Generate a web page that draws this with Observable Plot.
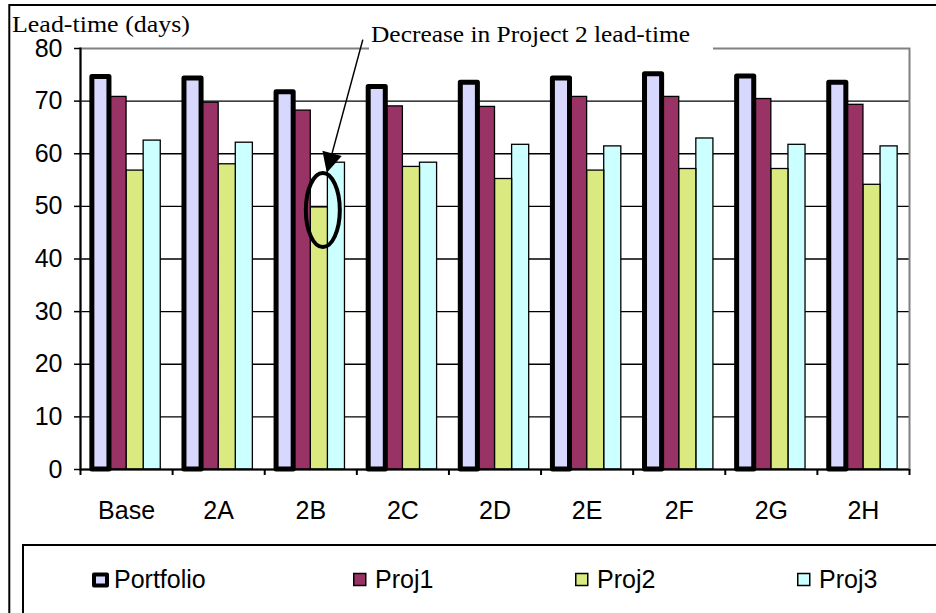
<!DOCTYPE html>
<html>
<head>
<meta charset="utf-8">
<script src="https://cdn.jsdelivr.net/npm/d3@7"></script>
<script src="https://cdn.jsdelivr.net/npm/@observablehq/plot@0.6"></script>
<style>
  body { margin: 0; background: #fff; }
  #wrap { position: relative; width: 936px; height: 613px; overflow: hidden; background: #fff; }
  #chart { position: absolute; left: 0; top: 0; }
  #overlay { position: absolute; left: 0; top: 0; pointer-events: none; }
</style>
</head>
<body>
<div id="wrap">
  <div id="chart"></div>
  <svg id="overlay" width="936" height="613"></svg>
</div>
<script>
// ---- data ----
const categories = ["Base", "2A", "2B", "2C", "2D", "2E", "2F", "2G", "2H"];
const seriesNames = ["Portfolio", "Proj1", "Proj2", "Proj3"];
const portfolio = [74.6, 74.3, 71.7, 72.7, 73.5, 74.3, 75.1, 74.7, 73.5];
const proj1     = [70.8, 69.7, 68.2, 69.0, 68.9, 70.8, 70.8, 70.4, 69.3];
const proj2     = [56.8, 58.0, 49.8, 57.5, 55.2, 56.8, 57.1, 57.1, 54.1];
const proj3     = [62.5, 62.1, 58.3, 58.3, 61.7, 61.4, 62.9, 61.7, 61.4];
const yTicks = [0, 10, 20, 30, 40, 50, 60, 70, 80];
const yTitle = "Lead-time (days)";
const noteText = "Decrease in Project 2 lead-time";
const noteCategory = "2B";

// ---- layout ----
const W = 936, H = 545;
const mL = 80, mR = 27, mT = 48, mB = H - 469;
const bw = (W - mL - mR) / categories.length;
const sw = 17.1;
const pad = (bw - seriesNames.length * sw) / 2;
const colors = { Portfolio: "#D8D8FF", Proj1: "#993366", Proj2: "#DAEA80", Proj3: "#CCFFFF" };
const valuesBySeries = { Portfolio: portfolio, Proj1: proj1, Proj2: proj2, Proj3: proj3 };

const rows = categories.map((c, i) => {
  const r = { cat: c };
  seriesNames.forEach(s => r[s] = valuesBySeries[s][i]);
  return r;
});

function bars(name) {
  const i = seriesNames.indexOf(name);
  const thick = name === "Portfolio";
  return Plot.barY(rows, {
    x: "cat", y: name,
    fill: colors[name],
    stroke: "#000",
    strokeWidth: thick ? 5 : 1.3,
    strokeLinejoin: thick ? "round" : "miter",
    insetLeft: pad + i * sw,
    insetRight: bw - pad - (i + 1) * sw
  });
}

const font = "'Liberation Sans', Arial, sans-serif";
const fs = 25;

const chart = Plot.plot({
  width: W, height: H,
  marginLeft: mL, marginRight: mR, marginTop: mT, marginBottom: mB,
  style: { fontFamily: font, fontSize: fs + "px", color: "#000", background: "transparent", overflow: "visible" },
  x: { type: "band", domain: categories, padding: 0, round: false, axis: null },
  y: { domain: [0, 80], axis: null },
  marks: [
    Plot.gridY(yTicks.filter(t => t > 0 && t < 80), { stroke: "#000", strokeOpacity: 1, strokeWidth: 1.3 }),
    Plot.frame({ stroke: "#808080", strokeWidth: 2 }),
    bars("Proj3"), bars("Proj2"), bars("Proj1"), bars("Portfolio"),
    Plot.ruleY([0], { stroke: "#000", strokeWidth: 2 }),
    Plot.frame({ anchor: "left", stroke: "#000", strokeWidth: 2 }),
    Plot.axisY(yTicks, { tickSize: 6, tickPadding: 12, fontSize: fs, strokeWidth: 1.5, label: null }),
    Plot.axisX({ tickSize: 0, tickPadding: 32, fontSize: fs, label: null }),
    Plot.axisX({ tickSize: 6, strokeWidth: 2, tickFormat: () => "", dx: -bw / 2, label: null }),
    Plot.axisX([categories[categories.length - 1]], { tickSize: 6, strokeWidth: 2, tickFormat: () => "", dx: bw / 2, label: null })
  ]
});
document.getElementById("chart").appendChild(chart);

// ---- overlay: borders, title, annotation, legend ----
function sc(name) { const s = chart.scale(name); return s.apply ? s : Plot.scale({ [name]: s }); }
const xs = sc("x"), ys = sc("y");
const svg = d3.select("#overlay");

// outer chart border
svg.append("rect").attr("x", 9.3).attr("y", 5).attr("width", 1000).attr("height", 1000)
  .attr("fill", "none").attr("stroke", "#000").attr("stroke-width", 2);

// axis title
svg.append("text").attr("x", 12).attr("y", 32)
  .attr("font-family", "'Liberation Serif', 'Times New Roman', serif").attr("font-size", 22.5)
  .attr("textLength", 178).attr("lengthAdjust", "spacingAndGlyphs")
  .text(yTitle);

// annotation
const slot2 = xs.apply(noteCategory) + pad + 2.5 * sw;
svg.append("rect").attr("x", 369).attr("y", 18).attr("width", 344).attr("height", 32).attr("fill", "#fff");
svg.append("text").attr("x", 371).attr("y", 41.5)
  .attr("font-family", "'Liberation Serif', 'Times New Roman', serif").attr("font-size", 23.5)
  .attr("textLength", 319).attr("lengthAdjust", "spacingAndGlyphs")
  .text(noteText);
const tip = [slot2 + 8, ys.apply(56.3)];
const tail = [slot2 + 44, ys.apply(81.6)];
const ang = Math.atan2(tip[1] - tail[1], tip[0] - tail[0]);
const hl = 20, hw = 10;
const bx = tip[0] - hl * Math.cos(ang), by = tip[1] - hl * Math.sin(ang);
svg.append("line").attr("x1", tail[0]).attr("y1", tail[1]).attr("x2", bx).attr("y2", by)
  .attr("stroke", "#000").attr("stroke-width", 1.5);
svg.append("path")
  .attr("d", `M${tip[0]},${tip[1]}L${bx + hw * Math.sin(ang)},${by - hw * Math.cos(ang)}L${bx - hw * Math.sin(ang)},${by + hw * Math.cos(ang)}Z`)
  .attr("fill", "#000");
svg.append("ellipse").attr("cx", slot2 + 4).attr("cy", ys.apply(49.2)).attr("rx", 17).attr("ry", 37)
  .attr("fill", "none").attr("stroke", "#000").attr("stroke-width", 4);

// legend
svg.append("rect").attr("x", 23).attr("y", 545).attr("width", 1000).attr("height", 200)
  .attr("fill", "#fff").attr("stroke", "#000").attr("stroke-width", 2);
const legX = [92, 353, 575, 797];
seriesNames.forEach((s, i) => {
  const g = svg.append("g");
  if (s === "Portfolio") {
    g.append("rect").attr("x", legX[i] + 2).attr("y", 574.5).attr("width", 13).attr("height", 11)
      .attr("fill", colors[s]).attr("stroke", "#000").attr("stroke-width", 4).attr("stroke-linejoin", "round");
  } else {
    g.append("rect").attr("x", legX[i] + 0.75).attr("y", 573.5).attr("width", 12).attr("height", 12)
      .attr("fill", colors[s]).attr("stroke", "#000").attr("stroke-width", 1.5);
  }
  g.append("text").attr("x", legX[i] + 22).attr("y", 588)
    .attr("font-family", font).attr("font-size", fs).text(s);
});
</script>
</body>
</html>
